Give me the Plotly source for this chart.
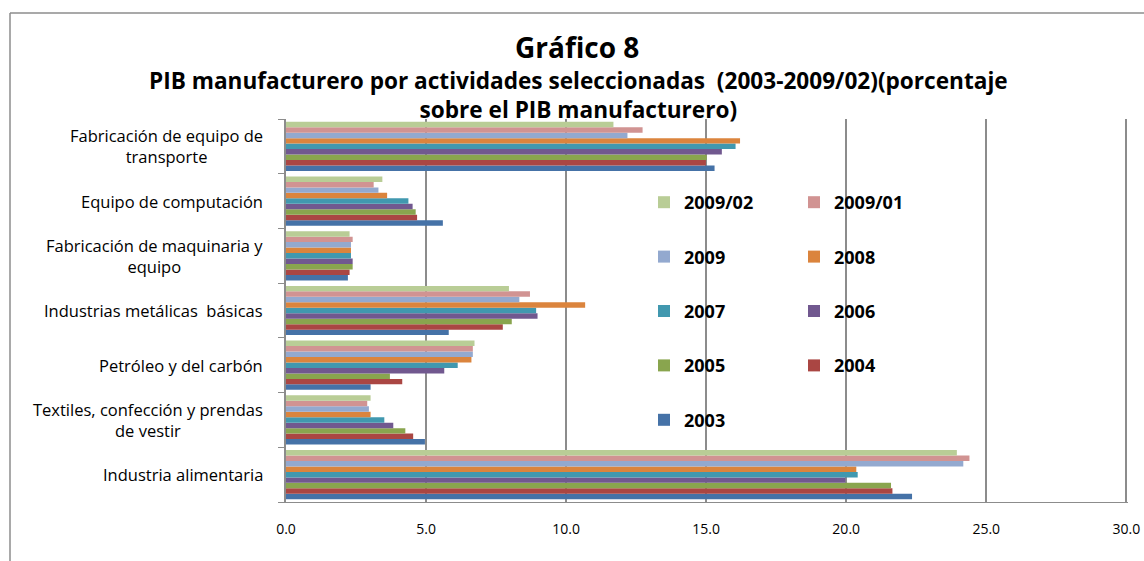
import plotly.graph_objects as go

# categories, bottom to top as drawn
categorias = ["Industria alimentaria",
              "Textiles, confección y prendas de vestir",
              "Petróleo y del carbón",
              "Industrias metálicas  básicas",
              "Fabricación de maquinaria y equipo",
              "Equipo de computación",
              "Fabricación de equipo de transporte"]
etiquetas = ["Industria alimentaria",
             "Textiles, confección y prendas<br>de vestir",
             "Petróleo y del carbón",
             "Industrias metálicas  básicas",
             "Fabricación de maquinaria y<br>equipo",
             "Equipo de computación",
             "Fabricación de equipo de<br>transporte"]

v2003 = [22.35, 4.96, 3.02, 5.81, 2.21, 5.60, 15.30]
v2004 = [21.65, 4.54, 4.15, 7.74, 2.27, 4.68, 14.99]
v2005 = [21.60, 4.26, 3.71, 8.06, 2.38, 4.63, 15.02]
v2006 = [19.97, 3.83, 5.65, 8.98, 2.38, 4.52, 15.56]
v2007 = [20.41, 3.51, 6.13, 8.93, 2.32, 4.37, 16.05]
v2008 = [20.36, 3.02, 6.62, 10.68, 2.32, 3.61, 16.21]
v2009 = [24.18, 2.96, 6.67, 8.33, 2.32, 3.30, 12.19]
v2009_01 = [24.40, 2.90, 6.67, 8.71, 2.38, 3.13, 12.73]
v2009_02 = [23.95, 3.02, 6.73, 7.96, 2.27, 3.44, 11.69]

series = ["2003", "2004", "2005", "2006", "2007", "2008", "2009", "2009/01", "2009/02"]
valores = [v2003, v2004, v2005, v2006, v2007, v2008, v2009, v2009_01, v2009_02]
colores = ["#4572A7", "#AA4643", "#89A54E", "#71588F", "#4198AF",
           "#DB843D", "#93A9CF", "#D19392", "#B9CD96"]

x_ticks = [0, 5, 10, 15, 20, 25, 30]

FONT = "Open Sans"
W, H = 1144, 561
L, R, T, B = 286, 16, 119, 59
PW, PH = W - L - R, H - T - B


def px_x(x):  # figure pixel -> paper fraction
    return (x - L) / PW


def px_y(y):
    return (H - B - y) / PH


fig = go.Figure()
for i, (name, vals, col) in enumerate(zip(series, valores, colores)):
    # legend columns: left gets 2009/02, 2009, 2007, 2005, 2003
    left = (len(series) - 1 - i) % 2 == 0
    fig.add_trace(go.Bar(
        y=categorias, x=vals, name=name, orientation="h",
        marker=dict(color=col, line=dict(width=0)),
        legend="legend" if left else "legend2",
        legendgroup=name, legendrank=100 - i,
    ))

legend_style = dict(
    font=dict(family=FONT, size=18, color="#000000", weight="bold"),
    bgcolor="rgba(0,0,0,0)", traceorder="grouped", tracegroupgap=28,
    xanchor="left", yanchor="top", itemwidth=30,
)

fig.update_layout(
    width=W, height=H,
    margin=dict(l=L, r=R, t=T, b=B, autoexpand=False),
    paper_bgcolor="white", plot_bgcolor="white",
    barmode="group", bargap=0.1, bargroupgap=0,
    font=dict(family=FONT, color="#000000"),
    legend=dict(x=px_x(644), y=px_y(184), **legend_style),
    legend2=dict(x=px_x(794), y=px_y(184), **legend_style),
    # small pad past 30 so the last grid line is not dropped at the edge
    xaxis=dict(range=[0, 30.06], tickvals=x_ticks, tickformat=".1f",
               showgrid=True, gridcolor="#8c8c8c", gridwidth=1.5,
               zeroline=False, showline=True, linecolor="#8c8c8c",
               tickfont=dict(size=14, color="#000000"),
               ticks="", ticklabelstandoff=14, automargin=False),
    yaxis=dict(showticklabels=False, showline=True, linecolor="#8c8c8c",
               linewidth=2, ticks="outside", tickson="boundaries",
               ticklen=6, tickcolor="#8c8c8c", showgrid=False,
               automargin=False),
)

for cat, lab in zip(categorias, etiquetas):
    fig.add_annotation(x=0, xref="paper", xanchor="right", xshift=-21,
                       y=cat, yref="y", text=lab, showarrow=False,
                       align="center", font=dict(size=16.5, color="#000000"))

fig.add_annotation(x=px_x(577), xref="paper", y=1, yref="paper",
                   yanchor="middle", yshift=72,
                   text="<b>Gráfico 8</b>", showarrow=False,
                   font=dict(size=28))
fig.add_annotation(x=px_x(578), xref="paper", y=1, yref="paper",
                   yanchor="middle", yshift=24,
                   text="<b>PIB manufacturero por actividades seleccionadas  (2003-2009/02)(porcentaje<br>sobre el PIB manufacturero)</b>",
                   showarrow=False, font=dict(size=22.6))

# chart frame (top and left edges visible)
fig.add_shape(type="line", xref="paper", yref="paper",
              x0=px_x(10), y0=px_y(13), x1=px_x(W + 20), y1=px_y(13),
              line=dict(color="#8c8c8c", width=1.5))
fig.add_shape(type="line", xref="paper", yref="paper",
              x0=px_x(10), y0=px_y(13), x1=px_x(10), y1=px_y(H + 20),
              line=dict(color="#8c8c8c", width=1.5))

fig.write_html("out.html", config={"displayModeBar": False},
               post_script="document.body.style.margin='0';"
                           "document.body.style.overflow='hidden';")
